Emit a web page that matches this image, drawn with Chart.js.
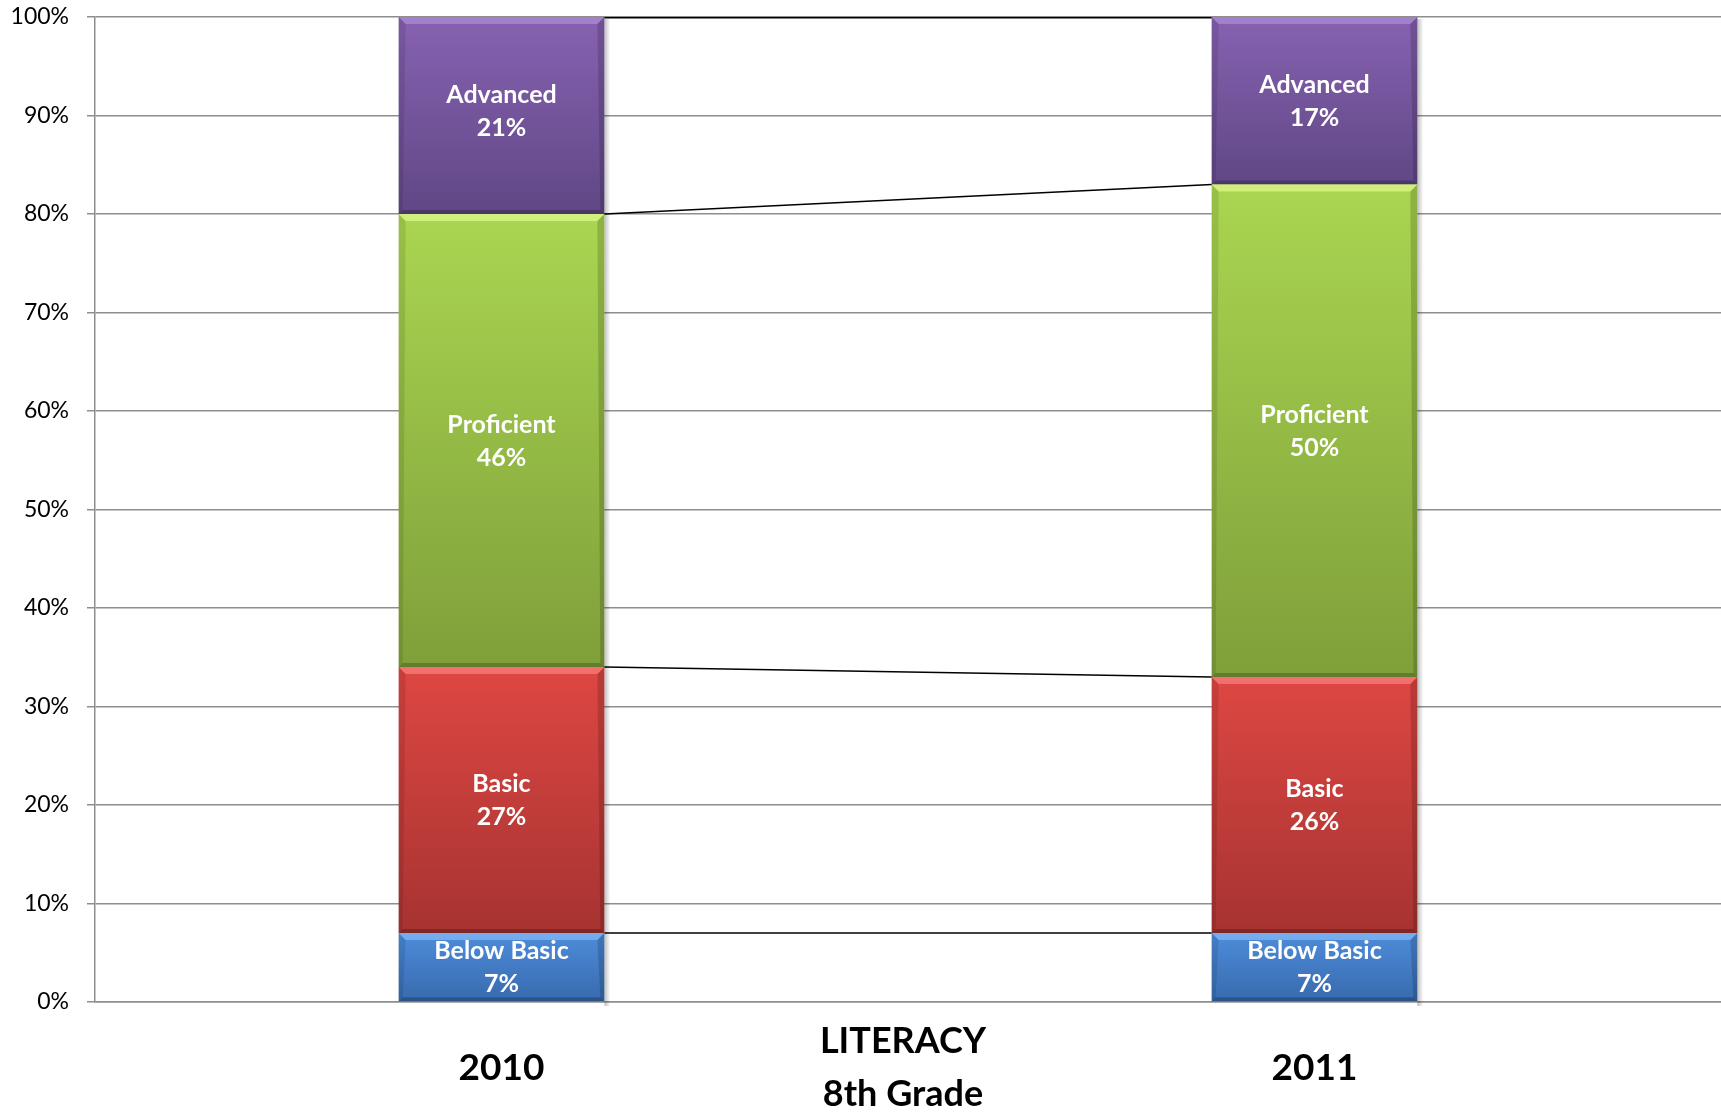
<!DOCTYPE html>
<html>
<head>
<meta charset="utf-8">
<script src="https://cdn.jsdelivr.net/npm/chart.js@4/dist/chart.umd.min.js"></script>
<style>
  html, body { margin: 0; padding: 0; background: #fff; }
  #wrap { width: 1721px; height: 1113px; }
</style>
</head>
<body>
<div id="wrap"><canvas id="literacyChart"></canvas></div>
<script>
// Data
const years = ['2010', '2011'];
const levels = ['Below Basic', 'Basic', 'Proficient', 'Advanced'];
const belowBasic = [7, 7];
const basic = [27, 26];
const proficient = [46, 50];
const advanced = [21, 17];
const yTicks = [0, 10, 20, 30, 40, 50, 60, 70, 80, 90, 100];
const titleLines = ['LITERACY', '8th Grade'];

// top / bottom gradient colours per level, plus the bevel highlight
const levelColors = [
    ['#4d8cda', '#386aad'],
    ['#de4743', '#a63331'],
    ['#aad651', '#7f9f3a'],
    ['#8762b2', '#604785']
];
const bevelColors = ['rgba(150,200,255,0.55)', 'rgba(255,140,140,0.6)', 'rgba(235,255,150,0.6)', 'rgba(190,160,230,0.5)'];

Chart.defaults.font.family = "Lato, 'Open Sans', sans-serif";
Chart.defaults.color = '#000';

const seriesValues = [belowBasic, basic, proficient, advanced];

// gradient for each stacked segment, built from the y scale
const segmentFill = (ctx) => {
    const chart = ctx.chart;
    const yScale = chart.scales.y;
    const cols = levelColors[ctx.datasetIndex];
    if (!chart.chartArea || !yScale || ctx.dataIndex === undefined) return cols[0];
    let base = 0;
    for (let d = 0; d < ctx.datasetIndex; d++) base += seriesValues[d][ctx.dataIndex];
    const top = base + seriesValues[ctx.datasetIndex][ctx.dataIndex];
    const y0 = yScale.getPixelForValue(Math.min(top, 100));
    const y1 = yScale.getPixelForValue(base);
    const g = chart.ctx.createLinearGradient(0, y0, 0, y1);
    g.addColorStop(0, cols[0]);
    g.addColorStop(1, cols[1]);
    return g;
};

// Excel style bevel, series lines, labels and title
const decorations = {
    id: 'decorations',
    beforeDatasetsDraw(chart) {
        // soft shadow on the right of each bar
        const { ctx, chartArea } = chart;
        const meta0 = chart.getDatasetMeta(0);
        ctx.save();
        meta0.data.forEach((bar) => {
            const half = bar.width / 2;
            const g = ctx.createLinearGradient(bar.x + half, 0, bar.x + half + 6, 0);
            g.addColorStop(0, 'rgba(0,0,0,0.25)');
            g.addColorStop(1, 'rgba(0,0,0,0)');
            ctx.fillStyle = g;
            ctx.fillRect(bar.x + half, chartArea.top + 2, 6, chartArea.bottom - chartArea.top + 2);
        });
        ctx.restore();
    },
    afterDatasetsDraw(chart) {
        const { ctx, chartArea } = chart;
        ctx.save();
        ctx.beginPath();
        ctx.rect(chartArea.left, chartArea.top, chartArea.right - chartArea.left, chartArea.bottom - chartArea.top);
        ctx.clip();

        chart.data.datasets.forEach((ds, di) => {
            const meta = chart.getDatasetMeta(di);
            meta.data.forEach((bar) => {
                const half = bar.width / 2;
                const l = bar.x - half, r = bar.x + half;
                const t = Math.max(bar.y, chartArea.top), b = bar.base;
                const bv = 7;
                // top highlight
                ctx.fillStyle = bevelColors[di];
                ctx.beginPath();
                ctx.moveTo(l, t); ctx.lineTo(r, t); ctx.lineTo(r - bv, t + bv); ctx.lineTo(l + bv, t + bv);
                ctx.closePath(); ctx.fill();
                // bottom shade
                ctx.fillStyle = 'rgba(0,0,0,0.22)';
                ctx.beginPath();
                ctx.moveTo(l, b); ctx.lineTo(r, b); ctx.lineTo(r - 4, b - 4); ctx.lineTo(l + 4, b - 4);
                ctx.closePath(); ctx.fill();
                // side shades
                ctx.fillStyle = 'rgba(0,0,0,0.10)';
                ctx.beginPath();
                ctx.moveTo(l, t); ctx.lineTo(l + bv, t + bv); ctx.lineTo(l + 4, b - 4); ctx.lineTo(l, b);
                ctx.closePath(); ctx.fill();
                ctx.fillStyle = 'rgba(0,0,0,0.16)';
                ctx.beginPath();
                ctx.moveTo(r, t); ctx.lineTo(r - bv, t + bv); ctx.lineTo(r - 4, b - 4); ctx.lineTo(r, b);
                ctx.closePath(); ctx.fill();
            });
        });

        // series lines between the two bars
        ctx.strokeStyle = '#000';
        ctx.lineWidth = 1.5;
        chart.data.datasets.forEach((ds, di) => {
            const meta = chart.getDatasetMeta(di);
            const a = meta.data[0], b = meta.data[1];
            ctx.beginPath();
            ctx.moveTo(a.x + a.width / 2, Math.max(a.y, chartArea.top + 0.75));
            ctx.lineTo(b.x - b.width / 2, Math.max(b.y, chartArea.top + 0.75));
            ctx.stroke();
        });

        // segment labels
        ctx.fillStyle = '#fff';
        ctx.font = "bold 25px Lato, 'Open Sans', sans-serif";
        ctx.textAlign = 'center';
        ctx.textBaseline = 'middle';
        chart.data.datasets.forEach((ds, di) => {
            const meta = chart.getDatasetMeta(di);
            meta.data.forEach((bar, i) => {
                const cy = (bar.y + bar.base) / 2;
                ctx.fillText(ds.label, bar.x, cy - 16);
                ctx.fillText(ds.data[i] + '%', bar.x, cy + 17);
            });
        });
        ctx.restore();
    },
    afterDraw(chart) {
        const { ctx, chartArea } = chart;
        ctx.save();
        ctx.fillStyle = '#000';
        ctx.font = "bold 36px Lato, 'Open Sans', sans-serif";
        ctx.textAlign = 'center';
        ctx.textBaseline = 'middle';
        const cx = (chartArea.left + chartArea.right) / 2 - 5;
        ctx.fillText(titleLines[0], cx, chartArea.bottom + 39);
        ctx.fillText(titleLines[1], cx, chartArea.bottom + 92);
        ctx.restore();
    }
};

new Chart(document.getElementById('literacyChart'), {
    type: 'bar',
    data: {
        labels: years,
        datasets: levels.map((name, i) => ({
            label: name,
            data: seriesValues[i],
            backgroundColor: segmentFill,
            borderWidth: 0,
            categoryPercentage: 1,
            barPercentage: 0.253
        }))
    },
    options: {
        responsive: true,
        maintainAspectRatio: false,
        animation: false,
        layout: { padding: { top: 17, left: 0, right: 0, bottom: 23 } },
        plugins: {
            legend: { display: false },
            tooltip: { enabled: false }
        },
        scales: {
            x: {
                stacked: true,
                grid: { display: false, drawTicks: false },
                border: { display: true, color: '#8e8e8e', width: 1.5 },
                ticks: {
                    font: { size: 37, weight: 'bold' },
                    color: '#000',
                    padding: 44
                },
                afterFit: (scale) => {
                    scale.height = 88;
                    scale.paddingLeft = 0;
                    scale.paddingRight = 0;
                }
            },
            y: {
                stacked: true,
                min: 0,
                max: 100,
                afterBuildTicks: (scale) => { scale.ticks = yTicks.map(v => ({ value: v })); },
                grid: {
                    color: '#8e8e8e',
                    lineWidth: 1.5,
                    tickLength: 8
                },
                border: { display: true, color: '#8e8e8e', width: 1.5 },
                ticks: {
                    font: { size: 23 },
                    color: '#000',
                    padding: 18,
                    callback: (v) => v + '%'
                },
                afterFit: (scale) => {
                    scale.width = 95;
                    scale.paddingTop = 0;
                    scale.paddingBottom = 0;
                }
            }
        }
    },
    plugins: [decorations]
});
</script>
</body>
</html>
